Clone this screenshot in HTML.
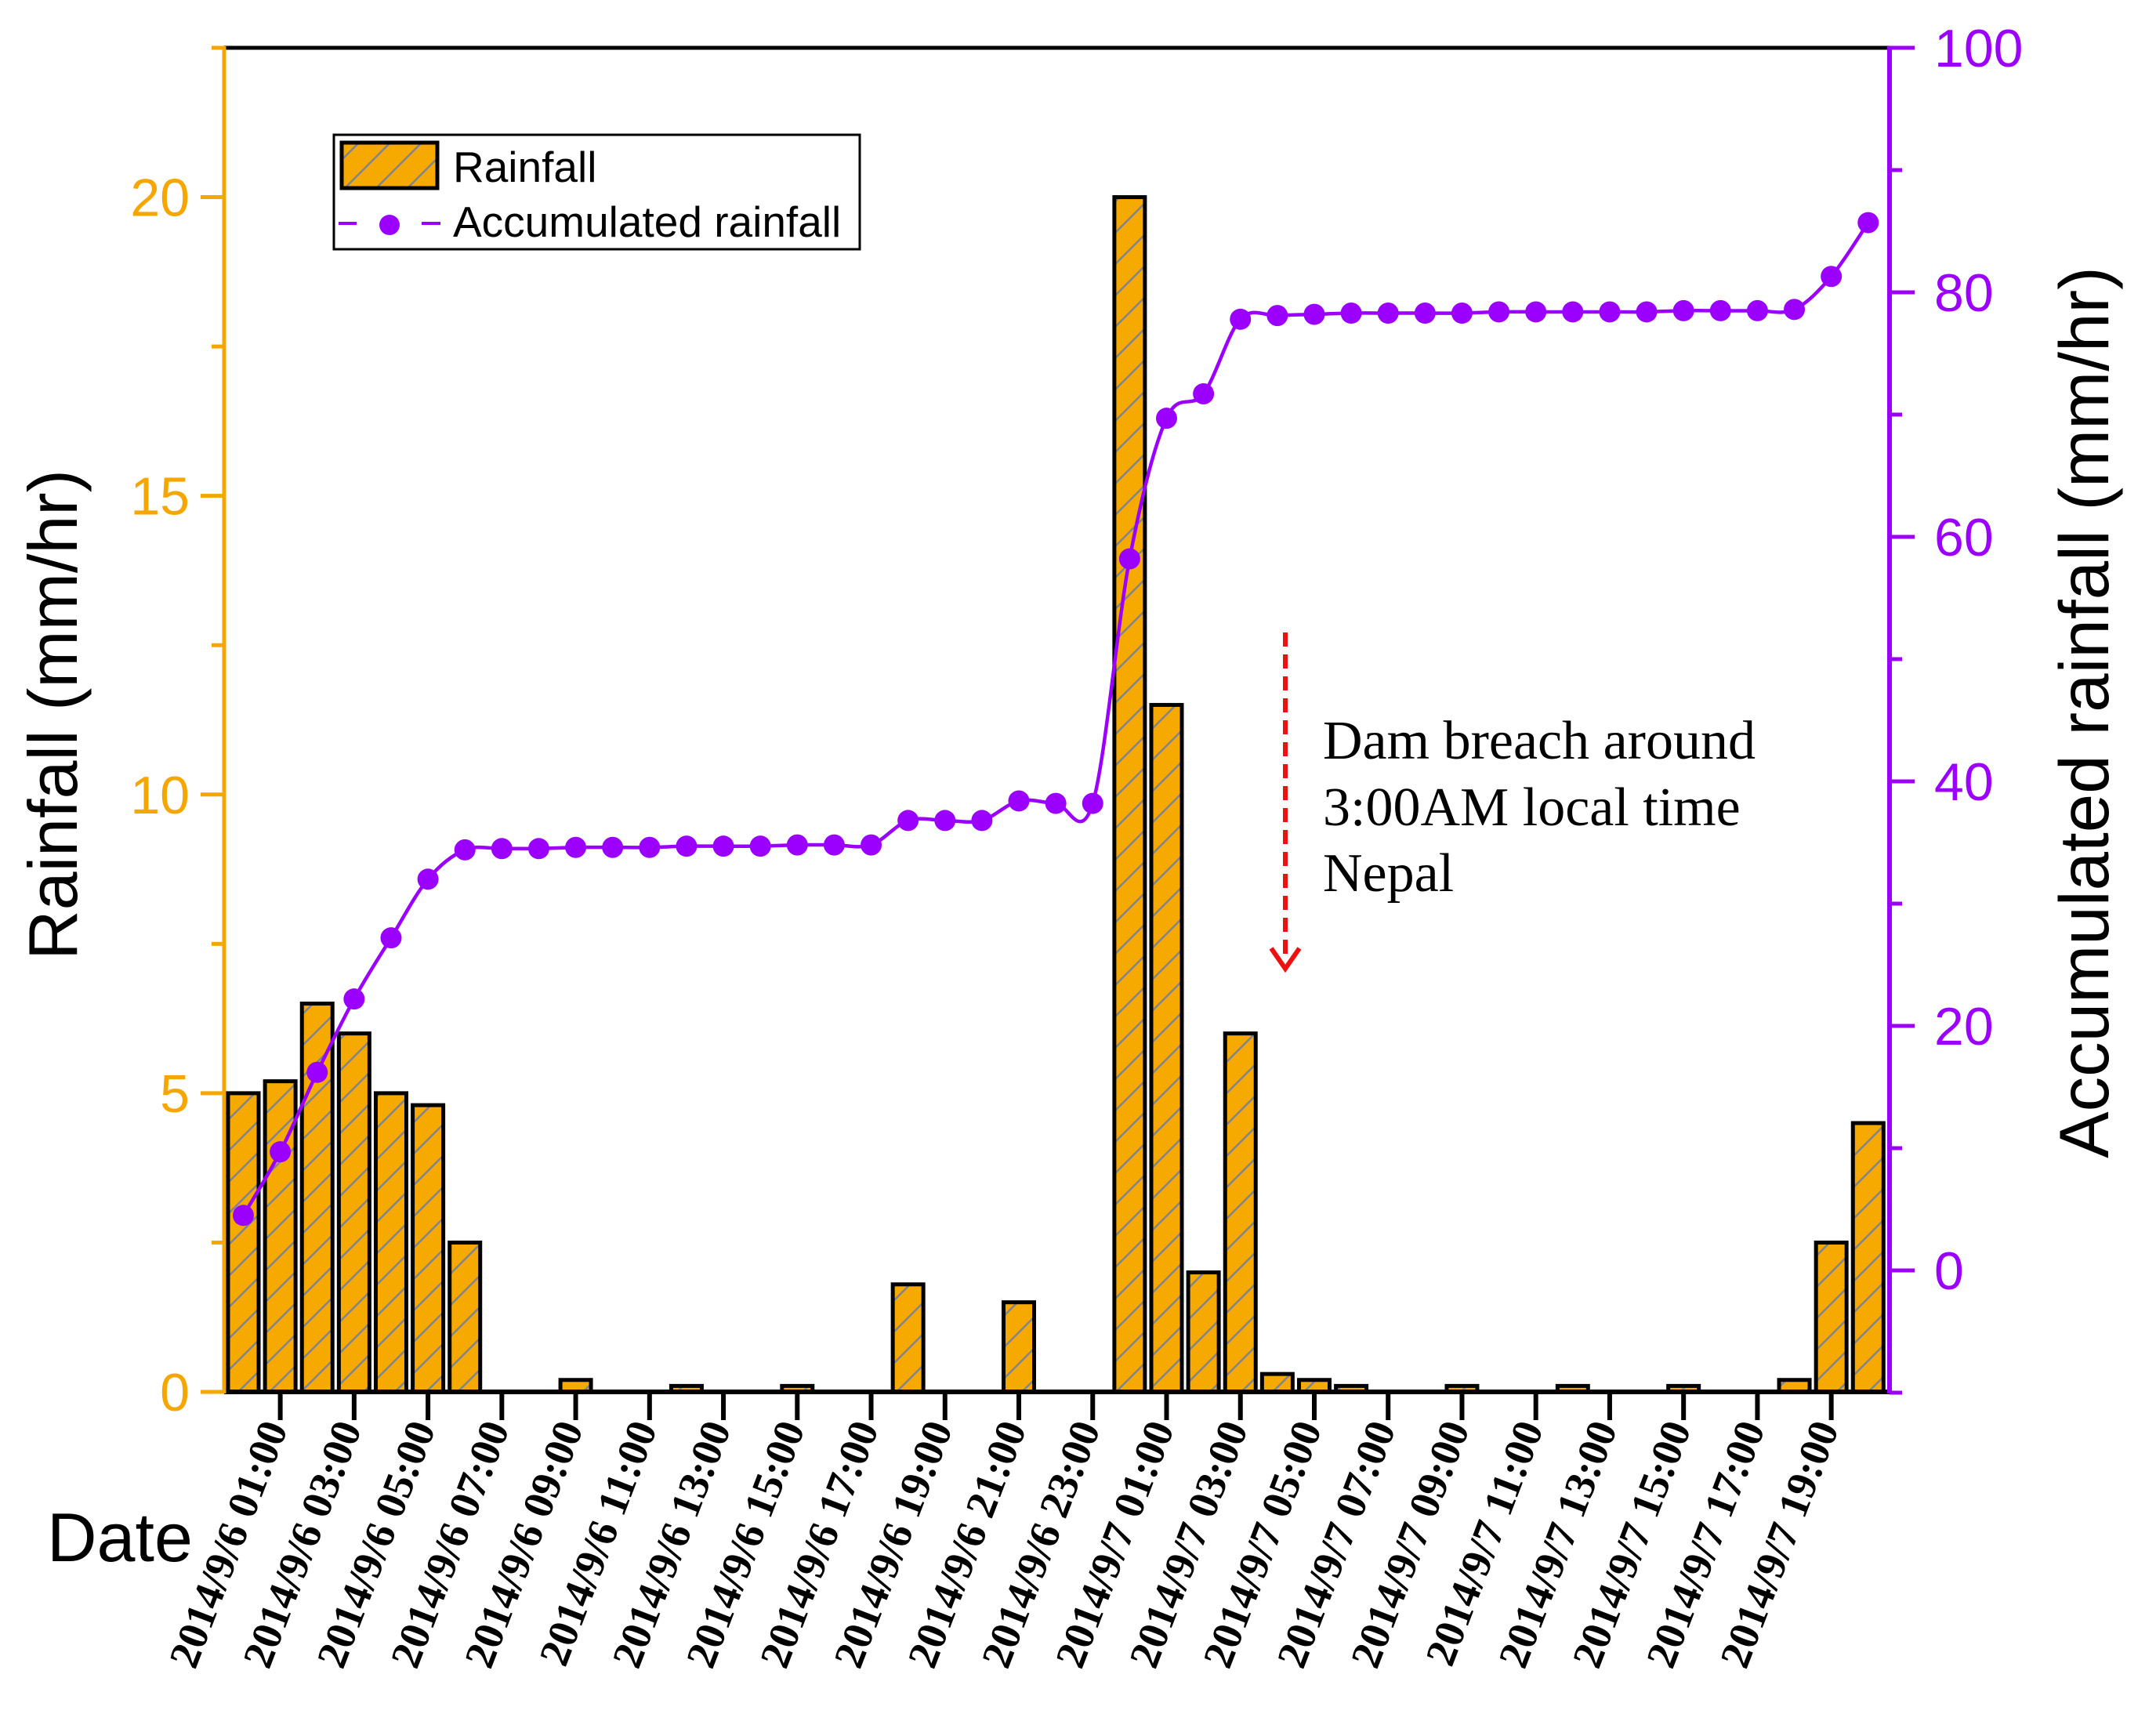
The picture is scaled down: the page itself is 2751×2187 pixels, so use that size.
<!DOCTYPE html>
<html><head><meta charset="utf-8"><style>
html,body{margin:0;padding:0;background:#fff}
svg{display:block}
</style></head><body>
<svg id="chart" width="2751" height="2187" viewBox="0 0 2751 2187" xmlns="http://www.w3.org/2000/svg">
<defs>
<pattern id="hatch" patternUnits="userSpaceOnUse" width="40" height="40">
<rect width="40" height="40" fill="#f6aa00"/>
<path d="M-10,50 L50,-10 M-30,30 L30,-30 M10,70 L70,10" stroke="#7f8590" stroke-width="2.5"/>
</pattern>
</defs>
<g id="plot"></g>
</svg>
<script>
const hours = Array.from({length:45},(_,i)=>i);
const rainfall = [5,5.2,6.5,6,5,4.8,2.5,0,0,0.2,0,0,0.1,0,0,0.1,0,0,1.8,0,0,1.5,0,0,20,11.5,2,6,0.3,0.2,0.1,0,0,0.1,0,0,0.1,0,0,0.1,0,0,0.2,2.5,4.5];
const accumulated = [4.5,9.7,16.2,22.2,27.2,32,34.4,34.5,34.5,34.6,34.6,34.6,34.7,34.7,34.7,34.8,34.8,34.8,36.8,36.8,36.8,38.4,38.2,38.2,58.2,69.7,71.7,77.8,78.1,78.2,78.3,78.3,78.3,78.3,78.4,78.4,78.4,78.4,78.4,78.5,78.5,78.5,78.6,81.3,85.7];
const leftTicks = [0,5,10,15,20];
const rightTicks = [0,20,40,60,80,100];
const xTickLabels = ["2014/9/6 01:00","2014/9/6 03:00","2014/9/6 05:00","2014/9/6 07:00","2014/9/6 09:00","2014/9/6 11:00","2014/9/6 13:00","2014/9/6 15:00","2014/9/6 17:00","2014/9/6 19:00","2014/9/6 21:00","2014/9/6 23:00","2014/9/7 01:00","2014/9/7 03:00","2014/9/7 05:00","2014/9/7 07:00","2014/9/7 09:00","2014/9/7 11:00","2014/9/7 13:00","2014/9/7 15:00","2014/9/7 17:00","2014/9/7 19:00"];
const xTickHours = [1,3,5,7,9,11,13,15,17,19,21,23,25,27,29,31,33,35,37,39,41,43];

const L=286,R=2411,T=61,B=1776;
const ORANGE="#f5a600", PURPLE="#9b00ff";
const xs = h => 310.5 + h*47.12;
const yL = v => B - v*(B-T)/22.5;
const yR = v => 1621 - v*15.6;
const NS="http://www.w3.org/2000/svg";
const g=document.getElementById('plot');
function el(tag,attrs,parent){const e=document.createElementNS(NS,tag);for(const k in attrs)e.setAttribute(k,attrs[k]);(parent||g).appendChild(e);return e;}

// bars
const barW=39;
hours.forEach((h,i)=>{
  const v=rainfall[i]; if(v<=0) return;
  const r=el('rect',{x:xs(h)-barW/2,y:yL(v),width:barW,height:B-yL(v),fill:'url(#hatch)',stroke:'#000','stroke-width':5});
  
  
});

// spline line
const pts=hours.map((h,i)=>[xs(h),yR(accumulated[i])]);
let d=`M${pts[0][0]},${pts[0][1]}`;
for(let i=0;i<pts.length-1;i++){
  const p0=pts[Math.max(0,i-1)],p1=pts[i],p2=pts[i+1],p3=pts[Math.min(pts.length-1,i+2)];
  const c1=[p1[0]+(p2[0]-p0[0])/6,p1[1]+(p2[1]-p0[1])/6];
  const c2=[p2[0]-(p3[0]-p1[0])/6,p2[1]-(p3[1]-p1[1])/6];
  d+=` C${c1[0]},${c1[1]} ${c2[0]},${c2[1]} ${p2[0]},${p2[1]}`;
}
const line=el('path',{d:d,fill:'none',stroke:PURPLE,'stroke-width':4.5});


pts.forEach(p=>{
  const c=el('circle',{cx:p[0],cy:p[1],r:13.5,fill:PURPLE});
  
  
});

// axes
el('line',{x1:L,y1:T,x2:R,y2:T,stroke:'#000','stroke-width':5});
const bAx=el('line',{x1:L,y1:B,x2:R,y2:B,stroke:'#000','stroke-width':6});


const lAx=el('line',{x1:L,y1:T-2,x2:L,y2:B+2,stroke:ORANGE,'stroke-width':5});


const rAx=el('line',{x1:R,y1:T-2,x2:R,y2:B+2,stroke:PURPLE,'stroke-width':6});



// left ticks
for(let v=0;v<=22.5;v+=2.5){
  const major=(v%5===0);
  el('line',{x1:L,y1:yL(v),x2:L-(major?30:16),y2:yL(v),stroke:ORANGE,'stroke-width':5});
}
leftTicks.forEach(v=>{
  const t=el('text',{x:242,y:yL(v)+24,'text-anchor':'end','font-family':'Liberation Sans, sans-serif','font-size':68,fill:ORANGE});
  t.textContent=v;
  
  
});
// right ticks
for(let v=-10;v<=100;v+=10){
  const major=(v%20===0);
  el('line',{x1:R,y1:yR(v),x2:R+(major?32:16),y2:yR(v),stroke:PURPLE,'stroke-width':5});
}
rightTicks.forEach(v=>{
  const t=el('text',{x:2468,y:yR(v)+24,'text-anchor':'start','font-family':'Liberation Sans, sans-serif','font-size':68,fill:PURPLE});
  t.textContent=v;
  
  
});
// x ticks
xTickHours.forEach((h,i)=>{
  el('line',{x1:xs(h),y1:B,x2:xs(h),y2:B+36,stroke:'#000','stroke-width':6});
  const x=xs(h)+10,y=1822;
  const t=el('text',{x:x,y:y,transform:`rotate(-69 ${x} ${y})`,'text-anchor':'end','font-family':'Liberation Serif, serif','font-weight':'bold','font-size':54,fill:'#000'});
  t.textContent=xTickLabels[i];
  
  
});
</script>
<svg style="position:absolute;left:0;top:0" width="2751" height="2187" xmlns="http://www.w3.org/2000/svg">
<text x="0" y="0" transform="translate(98 912) rotate(-90)" text-anchor="middle" font-family="Liberation Sans, sans-serif" font-size="88">Rainfall (mm/hr)</text>
<text x="0" y="0" transform="translate(2690 909) rotate(-90)" text-anchor="middle" font-family="Liberation Sans, sans-serif" font-size="89">Accumulated rainfall (mm/hr)</text>
<text x="60" y="1992" font-family="Liberation Sans, sans-serif" font-size="88">Date</text>
<g>
<rect x="426" y="172" width="671" height="146" fill="#fff" stroke="#000" stroke-width="3"/>
<rect x="436" y="182" width="122" height="58" fill="url(#hatch)" stroke="#000" stroke-width="5"/>
<text x="578" y="232" font-family="Liberation Sans, sans-serif" font-size="55">Rainfall</text>
<line x1="432" y1="285" x2="455" y2="285" stroke="#9b00ff" stroke-width="4"/>
<circle cx="497" cy="287" r="13" fill="#9b00ff"/>
<line x1="538" y1="285" x2="562" y2="285" stroke="#9b00ff" stroke-width="4"/>
<text x="578" y="302" font-family="Liberation Sans, sans-serif" font-size="55">Accumulated rainfall</text>
</g>
<g>
<line x1="1640" y1="807" x2="1640" y2="1218" stroke="#ee1111" stroke-width="6" stroke-dasharray="18,10"/>
<path d="M1622,1210 L1640,1236 L1658,1210" fill="none" stroke="#ee1111" stroke-width="6"/>
<text x="1688" y="968" font-family="Liberation Serif, serif" font-size="70">Dam breach around</text>
<text x="1688" y="1053" font-family="Liberation Serif, serif" font-size="70">3:00AM local time</text>
<text x="1688" y="1137" font-family="Liberation Serif, serif" font-size="70">Nepal</text>
</g>
</svg>
</body></html>
